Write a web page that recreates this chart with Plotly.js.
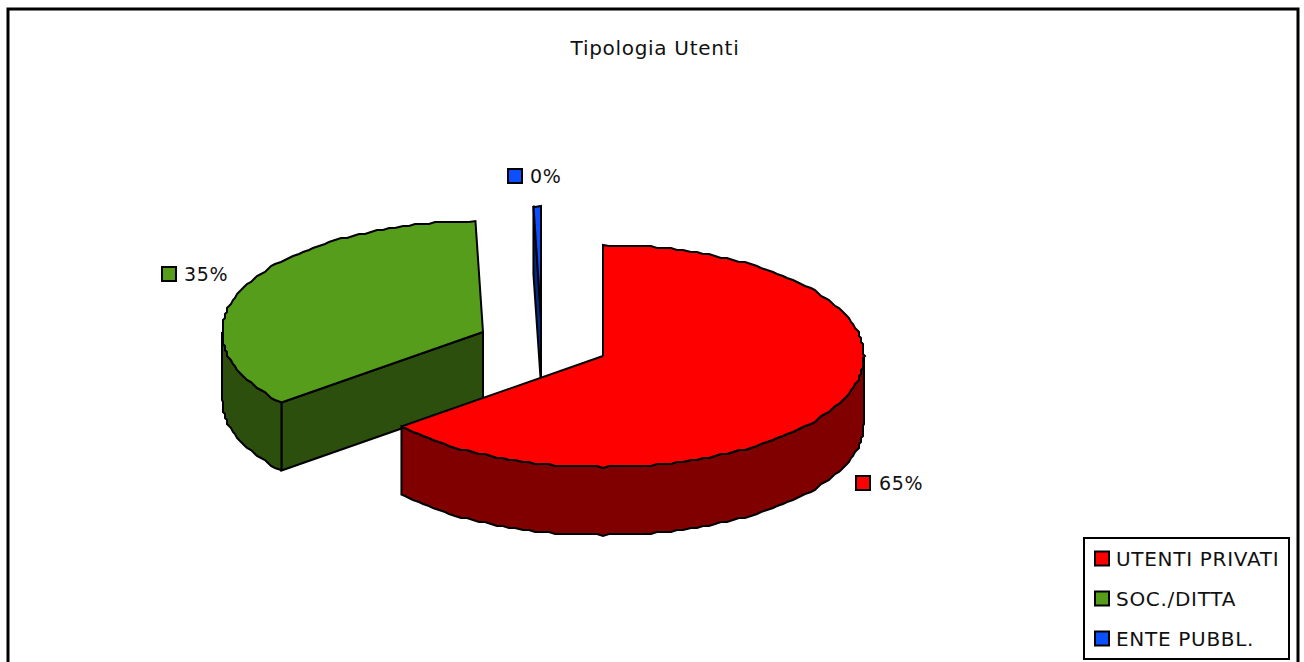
<!DOCTYPE html>
<html><head><meta charset="utf-8">
<script src="https://cdn.plot.ly/plotly-3.0.1.min.js"></script>
<style>html,body{margin:0;padding:0;background:#fff;overflow:hidden}#c{width:1304px;height:662px}
.gtitle,.legendtext,.textpoint text{letter-spacing:0.7px}
.legend .legendtext{transform:translateX(-9px)}
.legend .legendsymbols{transform:translateX(-3px)}
.legend .bg{width:205px}
</style>
</head><body><div id="c"></div>
<script>
var chartTitle = "Tipologia Utenti";
var categories = ["UTENTI PRIVATI", "SOC./DITTA", "ENTE PUBBL."];
var shareValues = [64.5, 35.01, 0.49];
var topColors = ["#ff0000", "#579d1c", "#0a50ff"];
var sideColors = ["#800000", "#2c4f0e", "#052880"];

// Exploded-slice drawing parameters, in axis units
var rx = 261, ry = 111, depth = 68, grid = 2, step = 1.5;
var apexes = [[603, 356], [483, 332], [541, 317]];
var swatchAnchors = [[863, 483], [169, 274], [515, 176]];
var textAnchors = [[879, 485], [184, 276], [530, 178]];

function warp(t) { return t - 1.7 * Math.sin(2 * t * Math.PI / 180); }
function snap(v) { return Math.round(v / grid) * grid; }
function rim(c, t, dy, exact) {
  var r = t * Math.PI / 180, ox = rx * Math.sin(r), oy = -ry * Math.cos(r);
  if (!exact) { ox = snap(ox); oy = snap(oy); }
  return [c[0] + ox, c[1] + oy + (dy || 0)];
}
// samples on a fixed angular lattice so that faces sharing a rim coincide
function arc(c, a, b, dy) {
  var lo = Math.min(a, b), hi = Math.max(a, b), pts = [rim(c, lo, dy, true)];
  for (var k = Math.floor(lo / step) + 1; k * step < hi; k++) pts.push(rim(c, k * step, dy));
  pts.push(rim(c, hi, dy, true));
  return a <= b ? pts : pts.reverse();
}
function poly(pts, fill) {
  return { type: "scatter", mode: "lines", x: pts.map(function (p) { return p[0]; }).concat(pts[0][0]),
    y: pts.map(function (p) { return p[1]; }).concat(pts[0][1]), fill: "toself", fillcolor: fill,
    line: { color: "#000", width: 2, simplify: false }, hoverinfo: "skip", showlegend: false };
}
function sideFaces(c, a, b, col) {
  var out = [];
  var lo = Math.max(a, 90), hi = Math.min(b, 270);
  if (hi > lo) out.push(poly(arc(c, lo, hi, 0).concat(arc(c, hi, lo, depth)), col));
  return out;
}
var total = shareValues.reduce(function (s, v) { return s + v; }, 0);
var spans = [], cum = 0;
shareValues.forEach(function (v) {
  spans.push([warp(cum / total * 360), warp((cum + v) / total * 360)]);
  cum += v;
});
function cutFace(c, t, col) {
  var e = rim(c, t, 0, true);
  return poly([[c[0], c[1]], e, [e[0], e[1] + depth], [c[0], c[1] + depth]], col);
}
function topFace(i) {
  var c = apexes[i];
  return poly([[c[0], c[1]]].concat(arc(c, spans[i][0], spans[i][1], 0)), topColors[i]);
}

var traces = [];
// back to front: blue, green, red
traces.push(cutFace(apexes[2], spans[2][0], sideColors[2]));
traces.push(topFace(2));
traces.push(cutFace(apexes[1], spans[1][0], sideColors[1]));
traces = traces.concat(sideFaces(apexes[1], spans[1][0], spans[1][1], sideColors[1]));
traces.push(topFace(1));
traces = traces.concat(sideFaces(apexes[0], spans[0][0], spans[0][1], sideColors[0]));
traces.push(topFace(0));

// percentage labels with their swatches
categories.forEach(function (name, i) {
  traces.push({ type: "scatter", mode: "markers", x: [swatchAnchors[i][0]], y: [swatchAnchors[i][1]],
    marker: { symbol: "square", size: 14, color: topColors[i], line: { color: "#000", width: 2 } },
    hoverinfo: "skip", showlegend: false });
  traces.push({ type: "scatter", mode: "text", x: [textAnchors[i][0]], y: [textAnchors[i][1]],
    text: [Math.round(shareValues[i]) + "%"], textposition: "middle right",
    textfont: { family: "DejaVu Sans", size: 19, color: "#111" },
    hoverinfo: "skip", showlegend: false });
});
// legend entries
categories.forEach(function (name, i) {
  traces.push({ type: "scatter", mode: "markers", x: [null], y: [null], name: name, legendgroup: name,
    marker: { symbol: "square", size: 14, color: topColors[i], line: { color: "#000", width: 2 } },
    showlegend: true });
});

var layout = {
  width: 1304, height: 662, margin: { l: 0, r: 0, t: 0, b: 0 },
  paper_bgcolor: "#fff", plot_bgcolor: "#fff",
  font: { family: "DejaVu Sans", color: "#111" },
  title: { text: chartTitle, x: 655 / 1304, y: 1 - 48 / 662, xanchor: "center", yanchor: "middle",
    font: { family: "DejaVu Sans", size: 20, color: "#111" } },
  xaxis: { range: [0, 1304], visible: false, fixedrange: true },
  yaxis: { range: [662, 0], visible: false, fixedrange: true },
  shapes: [{ type: "rect", xref: "x", yref: "y", x0: 8, x1: 1298, y0: 9, y1: 700, line: { color: "#000", width: 3 } }],
  legend: { x: 1083 / 1304, y: 1 - 537 / 662, xanchor: "left", yanchor: "top",
    bgcolor: "#fff", bordercolor: "#000", borderwidth: 2, traceorder: "grouped", tracegroupgap: 11,
    font: { family: "DejaVu Sans", size: 20, color: "#111" } }
};
Plotly.newPlot("c", traces, layout, { displayModeBar: false, staticPlot: true });
</script></body></html>
